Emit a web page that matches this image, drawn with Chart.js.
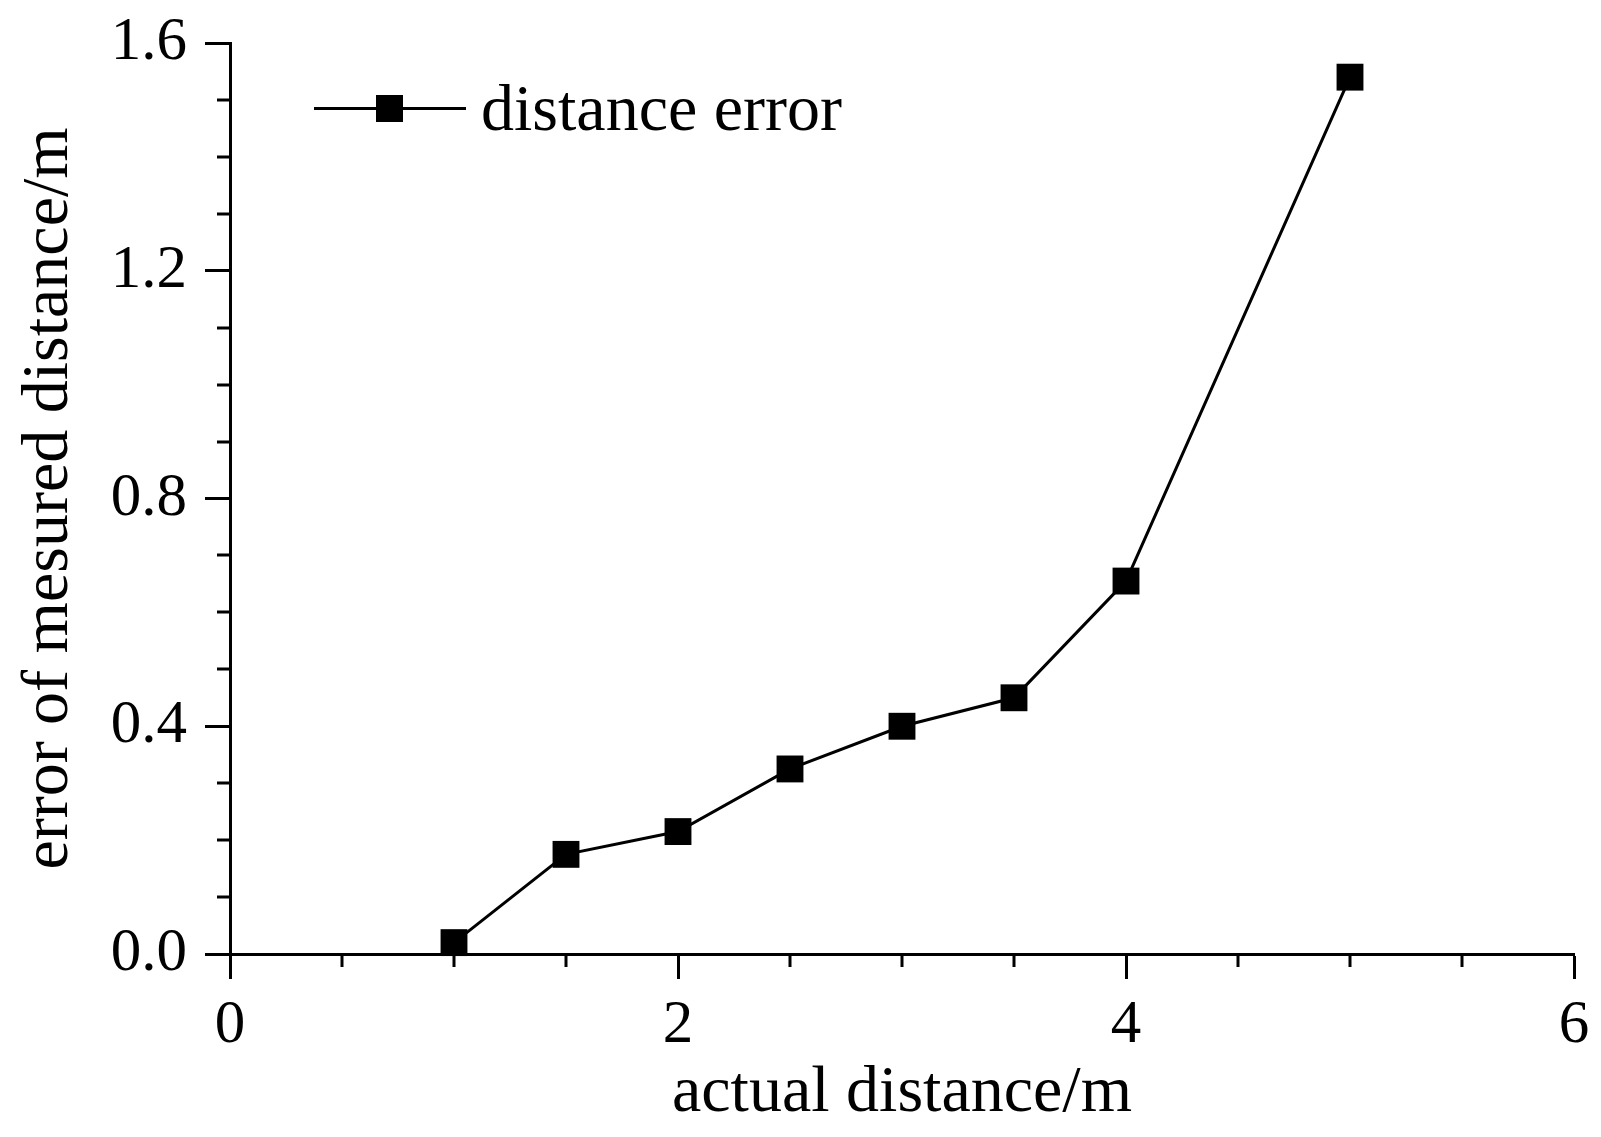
<!DOCTYPE html>
<html>
<head>
<meta charset="utf-8">
<script src="https://cdn.jsdelivr.net/npm/chart.js@4/dist/chart.umd.min.js"></script>
<style>
  html, body { margin: 0; padding: 0; background: #fff; }
  #wrap { width: 1601px; height: 1137px; }
</style>
</head>
<body>
<div id="wrap"><canvas id="c" width="1601" height="1137"></canvas></div>
<script>
// ---- data ----
const actualDistance = [1, 1.5, 2, 2.5, 3, 3.5, 4, 5];
const distanceError = [0.02, 0.175, 0.215, 0.325, 0.40, 0.45, 0.655, 1.54];
const seriesLabel = 'distance error';
const xTitle = 'actual distance/m';
const yTitle = 'error of mesured distance/m';

const FONT = '"Liberation Serif", "Times New Roman", serif';

const minorTicks = {
  id: 'minorTicks',
  afterDraw(chart) {
    const ctx = chart.ctx;
    const xs = chart.scales.x, ys = chart.scales.y;
    const area = chart.chartArea;
    ctx.save();
    ctx.strokeStyle = '#000';
    ctx.lineWidth = 3;
    ctx.beginPath();
    for (let v = xs.min; v <= xs.max + 1e-9; v += 0.5) {
      if (Math.abs(v / 2 - Math.round(v / 2)) < 1e-6) continue;
      const px = Math.round(xs.getPixelForValue(v));
      ctx.moveTo(px, area.bottom);
      ctx.lineTo(px, area.bottom + 13);
    }
    for (let i = 0; i <= 16; i++) {
      const v = i / 10;
      if (i % 4 === 0) continue;
      const py = Math.round(ys.getPixelForValue(v));
      ctx.moveTo(area.left, py);
      ctx.lineTo(area.left - 13, py);
    }
    ctx.stroke();
    ctx.restore();
  }
};

const customLegend = {
  id: 'customLegend',
  afterDraw(chart) {
    const ctx = chart.ctx;
    const ds = chart.data.datasets[0];
    ctx.save();
    ctx.strokeStyle = ds.borderColor;
    ctx.lineWidth = ds.borderWidth;
    ctx.beginPath();
    ctx.moveTo(314, 108.5);
    ctx.lineTo(466, 108.5);
    ctx.stroke();
    ctx.fillStyle = ds.pointBackgroundColor;
    ctx.fillRect(376, 95, 27, 27);
    ctx.fillStyle = '#000';
    ctx.font = '66px ' + FONT;
    ctx.textBaseline = 'alphabetic';
    ctx.textAlign = 'left';
    ctx.fillText(ds.label, 481, 130);
    ctx.restore();
  }
};

new Chart(document.getElementById('c'), {
  type: 'line',
  data: {
    datasets: [{
      label: seriesLabel,
      data: actualDistance.map((x, i) => ({ x: x, y: distanceError[i] })),
      borderColor: '#000',
      borderWidth: 3,
      backgroundColor: '#000',
      pointBackgroundColor: '#000',
      pointBorderWidth: 0,
      pointStyle: 'rect',
      pointRadius: 19,
      tension: 0,
      clip: false
    }]
  },
  options: {
    responsive: false,
    animation: false,
    layout: { padding: { top: 43, right: 27, bottom: 0, left: 0 } },
    plugins: { legend: { display: false }, tooltip: { enabled: false } },
    scales: {
      x: {
        type: 'linear',
        min: 0, max: 6,
        afterFit(s) { s.height = 183; s.paddingLeft = 0; s.paddingRight = 0; },
        border: { display: true, color: '#000', width: 3 },
        grid: { drawOnChartArea: false, drawTicks: true, tickLength: 25, tickColor: '#000', tickWidth: 3 },
        ticks: { stepSize: 2, color: '#000', padding: 10, maxRotation: 0, font: { family: FONT, size: 61 },
                 callback: v => String(v) },
        title: { display: true, text: xTitle, color: '#000', font: { family: FONT, size: 66 }, padding: { top: 0, bottom: 4 } }
      },
      y: {
        type: 'linear',
        min: 0, max: 1.6,
        afterFit(s) { s.width = 230; s.paddingTop = 0; s.paddingBottom = 0; },
        border: { display: true, color: '#000', width: 3 },
        grid: { drawOnChartArea: false, drawTicks: true, tickLength: 25, tickColor: '#000', tickWidth: 3 },
        ticks: { stepSize: 0.4, color: '#000', padding: 18, font: { family: FONT, size: 61 },
                 callback: v => Number(v).toFixed(1) },
        title: { display: true, text: yTitle, color: '#000', font: { family: FONT, size: 66 }, padding: { top: 10, bottom: 0 } }
      }
    }
  },
  plugins: [minorTicks, customLegend]
});
</script>
</body>
</html>
